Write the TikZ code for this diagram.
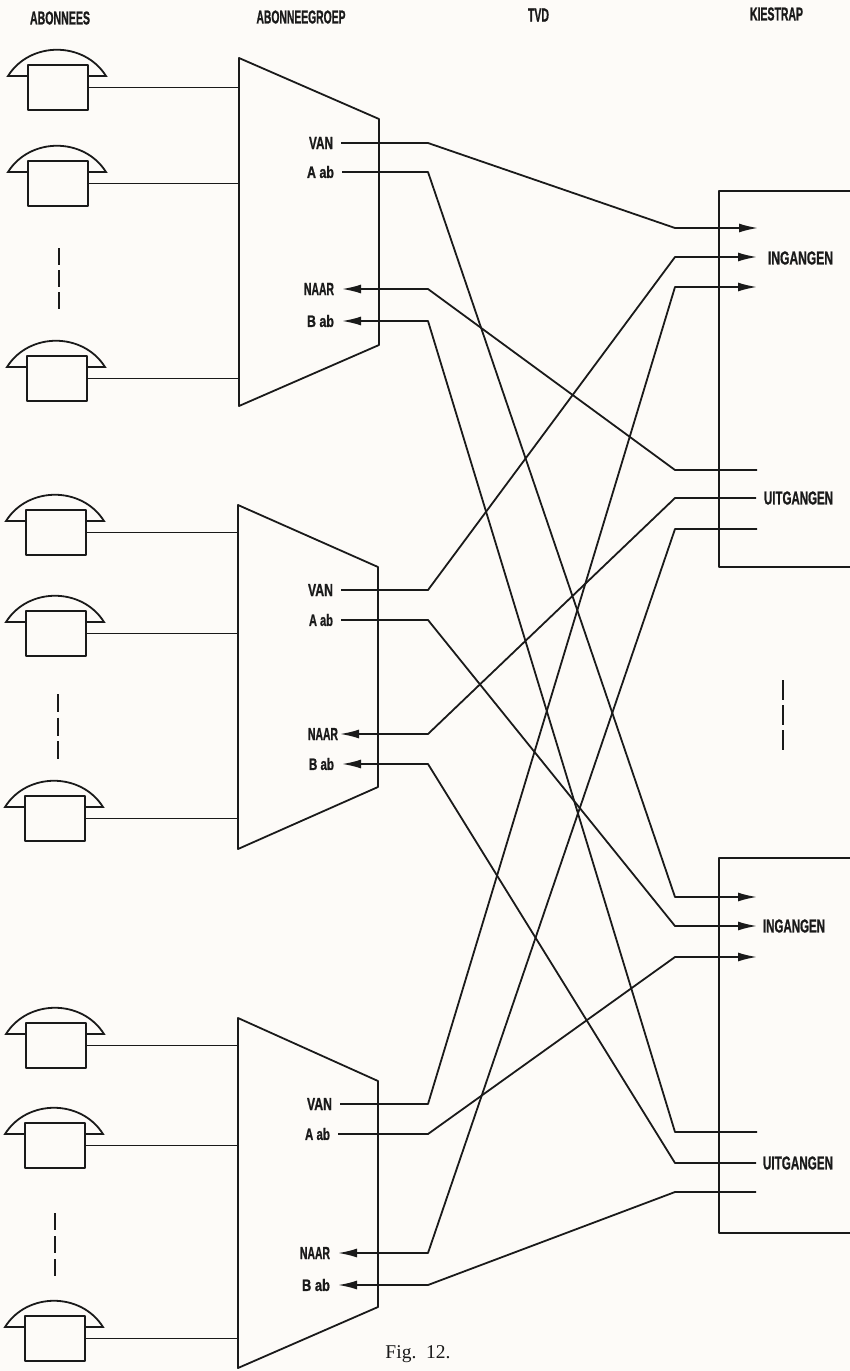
\documentclass[tikz,border=0pt]{standalone}
\usepackage{graphicx}
\usepackage{fontspec}
\setmainfont{Liberation Sans}[BoldFeatures={FakeBold=1.2}]
\newfontfamily\capfont{Liberation Serif}
\usetikzlibrary{arrows.meta,calc}
\definecolor{paper}{HTML}{FDFBF8}
\definecolor{ink}{HTML}{1A1A1A}
\tikzset{
  ln/.style={draw=ink,line width=1.8pt,line join=round},
  arr/.style={ln,-{Latex[length=19pt,width=9pt]}},
  phonebox/.style={ln,rectangle,minimum width=60pt,minimum height=45pt,inner sep=0pt,outer sep=0pt},
  lab/.style={text=ink,inner sep=0pt,outer sep=0pt},
  port/.style={text=ink,inner ysep=0pt,inner xsep=0pt,outer ysep=0pt,outer xsep=8pt,anchor=east},
  stage/.style={ln,rectangle,anchor=north west,minimum width=140pt,inner sep=0pt,outer sep=0pt}
}
\newcommand{\txt}[3]{\resizebox{#1pt}{#2pt}{\bfseries #3}}
\newcommand{\phone}[3]{%
  \node[phonebox,anchor=north west] (#1) at (#2,#3) {};
  \coordinate (#1l) at ($(#1.north west)+(-20,11)$);
  \coordinate (#1r) at ($(#1.north east)+(18,11)$);
  \draw[ln,line join=miter] ($(#1.north west)+(0,11)$) -- (#1l)
     .. controls ($(#1l)+(22,-35)$) and ($(#1r)+(-22,-35)$) .. (#1r) -- ($(#1.north east)+(0,11)$);
}
\newcommand{\trap}[7]{%
  \coordinate (#1a) at (#2,#3); \coordinate (#1b) at (#4,#5);
  \coordinate (#1c) at (#4,#6); \coordinate (#1d) at (#2,#7);
  \draw[ln] (#1a) -- (#1b) -- (#1c) -- (#1d) -- cycle;
}
\newcommand{\sub}[2]{\draw[ln] (#1.east) -- (#1.east -| #2);}
\newcommand{\outgo}[2]{\draw[arr] (#1.east) -- (#1.east -| bl) -- (#2 -| br) -- (#2);}
\newcommand{\incom}[2]{\draw[ln,{Latex[length=19pt,width=9pt]}-] (#1.east) -- (#1.east -| bl) -- (#2 -| br) -- (#2);}
\begin{document}
\begin{tikzpicture}[x=1pt,y=-1pt]
\fill[paper] (0,0) rectangle (850,1371);
\useasboundingbox (0,0) rectangle (850,1371);
\coordinate (bl) at (428,0);
\coordinate (br) at (675,0);

% headers
\node[lab] (h1) at (60,18) {\txt{60}{13}{ABONNEES}};
\node[lab] (h2) at (301,17) {\txt{89}{13}{ABONNEEGROEP}};
\node[lab] (h3) at (538.5,15) {\txt{21}{13}{TVD}};
\node[lab] (h4) at (776.5,14) {\txt{53}{13}{KIESTRAP}};

% subscriber groups
\trap{g1}{239}{58}{379}{119}{345}{406}
\trap{g2}{238}{505}{378}{567}{787}{849}
\trap{g3}{238}{1018}{378}{1081}{1307}{1368}

\phone{p11}{28}{65} \phone{p12}{28}{161} \phone{p13}{27}{356}
\phone{p21}{26}{510} \phone{p22}{26}{611} \phone{p23}{25}{796}
\phone{p31}{26}{1023} \phone{p32}{25}{1123} \phone{p33}{25}{1316}

\sub{p11}{g1a} \sub{p12}{g1a} \sub{p13}{g1a}
\sub{p21}{g2a} \sub{p22}{g2a} \sub{p23}{g2a}
\sub{p31}{g3a} \sub{p32}{g3a} \sub{p33}{g3a}

% dashes
\coordinate (d1a) at (59,248); \coordinate (d1b) at (59,309);
\coordinate (d2a) at (58,694); \coordinate (d2b) at (58,759);
\coordinate (d3a) at (55,1213); \coordinate (d3b) at (55,1276);
\coordinate (d4a) at (783,680); \coordinate (d4b) at (783,750);
\draw[ln,dash pattern=on 17pt off 5pt] (d1a) -- (d1b);
\draw[ln,dash pattern=on 18pt off 5.5pt] (d2a) -- (d2b);
\draw[ln,dash pattern=on 17pt off 6pt] (d3a) -- (d3b);
\draw[ln,dash pattern=on 20pt off 5pt] (d4a) -- (d4b);

% port labels
\node[port] (va1) at (341,143) {\txt{24}{12}{VAN}};
\node[port] (aa1) at (342,172) {\txt{27}{12}{A ab}};
\node[port] (na1) at (342,289) {\txt{30}{12}{NAAR}};
\node[port] (ba1) at (342,321) {\txt{27}{12}{B ab}};
\node[port] (va2) at (341,590) {\txt{25}{12}{VAN}};
\node[port] (aa2) at (341,620) {\txt{24}{12}{A ab}};
\node[port,outer xsep=2pt] (na2) at (340,734) {\txt{30}{12}{NAAR}};
\node[port] (ba2) at (342,764) {\txt{25}{12}{B ab}};
\node[port] (va3) at (340,1104) {\txt{25}{12}{VAN}};
\node[port] (aa3) at (338,1134) {\txt{25}{12}{A ab}};
\node[port] (na3) at (338,1253) {\txt{30}{12}{NAAR}};
\node[port] (ba3) at (338,1285) {\txt{28}{12}{B ab}};

% switching stages
\node[stage,minimum height=376pt] (k1) at (719,191) {};
\node[stage,minimum height=375pt] (k2) at (719,858) {};
\node[lab] (i1) at (800.5,258) {\txt{65}{13}{INGANGEN}};
\node[lab] (u1) at (798.5,498) {\txt{69}{13}{UITGANGEN}};
\node[lab] (i2) at (794,926) {\txt{62}{13}{INGANGEN}};
\node[lab] (u2) at (798,1163) {\txt{70}{13}{UITGANGEN}};

\coordinate (in11) at (758,228); \coordinate (in12) at (757,257); \coordinate (in13) at (757,287);
\coordinate (ut11) at (757,470); \coordinate (ut12) at (756,498); \coordinate (ut13) at (757,529);
\coordinate (in21) at (757,897); \coordinate (in22) at (757,926); \coordinate (in23) at (757,957);
\coordinate (ut21) at (757,1132); \coordinate (ut22) at (756,1163); \coordinate (ut23) at (756,1192);

\outgo{va1}{in11} \outgo{aa1}{in21}
\incom{na1}{ut11} \incom{ba1}{ut21}
\outgo{va2}{in12} \outgo{aa2}{in22}
\incom{na2}{ut12} \incom{ba2}{ut22}
\outgo{va3}{in13} \outgo{aa3}{in23}
\incom{na3}{ut13} \incom{ba3}{ut23}

\node[lab,anchor=base] (fig) at (418,1358) {\capfont\fontsize{19.5}{22}\selectfont Fig.\ \ 12.};
\end{tikzpicture}
\end{document}
